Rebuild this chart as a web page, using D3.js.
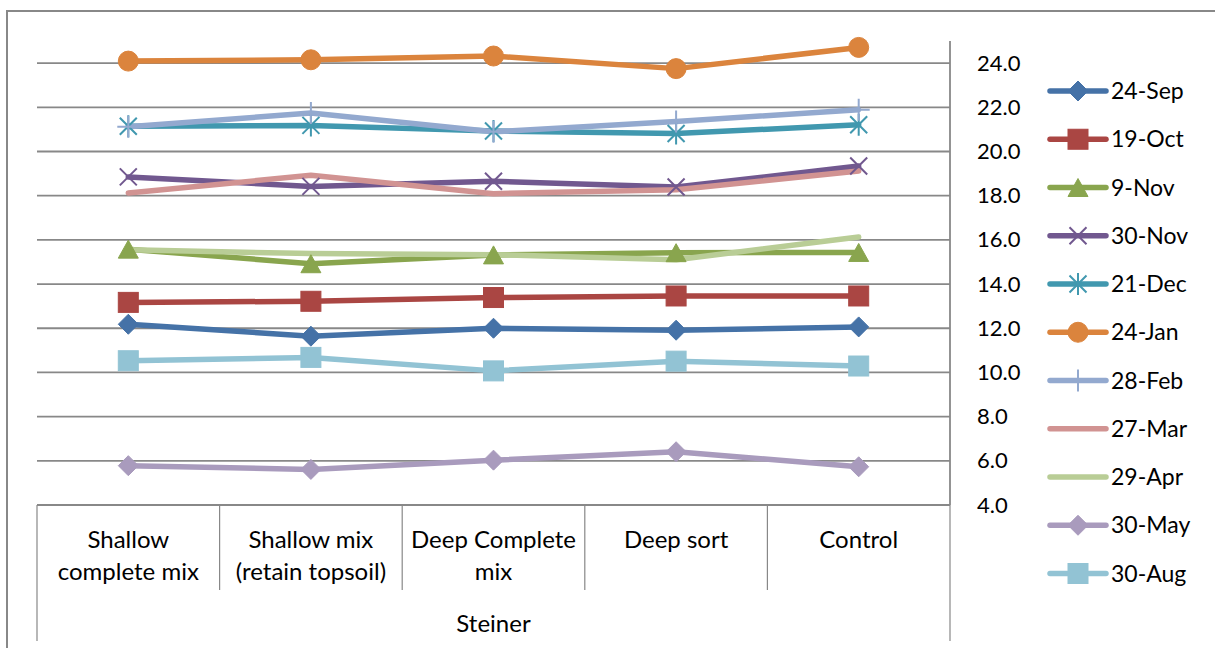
<!DOCTYPE html>
<html>
<head>
<meta charset="utf-8">
<script src="https://cdn.jsdelivr.net/npm/d3@7"></script>
<style>
  html, body { margin: 0; padding: 0; background: #fff; }
  svg { display: block; }
  text { font-family: Lato, "Open Sans", sans-serif; fill: #000; }
</style>
</head>
<body>
<svg id="chart" width="1215" height="648"></svg>
<script>
// ---- data ----
const categories = ["Shallow complete mix", "Shallow mix (retain topsoil)", "Deep Complete mix", "Deep sort", "Control"];
const categoryLines = [["Shallow", "complete mix"], ["Shallow mix", "(retain topsoil)"], ["Deep Complete", "mix"], ["Deep sort"], ["Control"]];
const groupLabel = "Steiner";
const seriesNames = ["24-Sep", "19-Oct", "9-Nov", "30-Nov", "21-Dec", "24-Jan", "28-Feb", "27-Mar", "29-Apr", "30-May", "30-Aug"];
const sep24 = [12.18, 11.64, 12.00, 11.91, 12.06];
const oct19 = [13.17, 13.22, 13.39, 13.46, 13.46];
const nov9  = [15.58, 14.92, 15.32, 15.42, 15.43];
const nov30 = [18.85, 18.42, 18.65, 18.39, 19.34];
const dec21 = [21.14, 21.18, 20.93, 20.81, 21.21];
const jan24 = [24.09, 24.15, 24.32, 23.75, 24.71];
const feb28 = [21.12, 21.74, 20.89, 21.36, 21.89];
const mar27 = [18.12, 18.92, 18.09, 18.27, 19.12];
const apr29 = [15.55, 15.38, 15.33, 15.10, 16.13];
const may30 = [5.78, 5.61, 6.03, 6.41, 5.73];
const aug30 = [10.53, 10.68, 10.07, 10.51, 10.29];
const seriesValues = [sep24, oct19, nov9, nov30, dec21, jan24, feb28, mar27, apr29, may30, aug30];
const seriesColors = ["#4572A7", "#AA4643", "#89A54E", "#71588F", "#4198AF", "#DB843D", "#93A9CF", "#D19392", "#B9CD96", "#A99BBD", "#92C3D4"];
const seriesMarkers = ["diamond", "square", "triangle", "x", "asterisk", "circle", "plus", "none", "none", "diamond", "square"];
const yTicks = [4, 6, 8, 10, 12, 14, 16, 18, 20, 22, 24];
const yDomain = [4, 25];

// ---- layout ----
const svg = d3.select("#chart");
const plot = { left: 37, right: 950, top: 41, bottom: 505 };
const x = d3.scaleBand().domain(categories).range([plot.left, plot.right]).padding(0);
const y = d3.scaleLinear().domain(yDomain).range([plot.bottom, plot.top]);
const cx = c => x(c) + x.bandwidth() / 2;
const gray = "#888888";

svg.append("rect").attr("width", 1215).attr("height", 648).attr("fill", "#fff");
// chart outer border
svg.append("rect").attr("x", 7).attr("y", 11).attr("width", 1230).attr("height", 660)
  .attr("fill", "none").attr("stroke", gray).attr("stroke-width", 2);

// gridlines
svg.append("g").selectAll("line").data(yTicks.filter(t => t > yDomain[0])).join("line")
  .attr("x1", plot.left).attr("x2", plot.right)
  .attr("y1", d => y(d)).attr("y2", d => y(d))
  .attr("stroke", gray).attr("stroke-width", 1.8);

// y axis (right) line
svg.append("line").attr("x1", plot.right).attr("x2", plot.right)
  .attr("y1", plot.top).attr("y2", plot.bottom).attr("stroke", gray).attr("stroke-width", 1.8);

// y tick labels (left aligned, right of axis)
const yAxis = d3.axisRight(y).tickValues(yTicks).tickFormat(d3.format(".1f")).tickSize(0).tickPadding(27);
const gy = svg.append("g").attr("transform", `translate(${plot.right},0)`).call(yAxis);
gy.select(".domain").remove();
gy.selectAll("text").attr("font-size", 22).attr("font-family", "Lato, sans-serif").attr("fill", "#000");

// x axis line
svg.append("line").attr("x1", plot.left).attr("x2", plot.right)
  .attr("y1", plot.bottom).attr("y2", plot.bottom).attr("stroke", gray).attr("stroke-width", 1.8);

// category dividers
const bounds = categories.map(c => x(c)).concat([plot.right]);
svg.append("g").selectAll("line").data(bounds).join("line")
  .attr("x1", d => d).attr("x2", d => d)
  .attr("y1", plot.bottom)
  .attr("y2", (d, i) => (i === 0 || i === bounds.length - 1) ? 641 : 590)
  .attr("stroke", gray).attr("stroke-width", 1.2);

// category labels
const catG = svg.append("g");
categories.forEach((c, i) => {
  const t = catG.append("text").attr("x", cx(c)).attr("y", 548)
    .attr("text-anchor", "middle").attr("font-size", 24);
  categoryLines[i].forEach((ln, j) => {
    t.append("tspan").attr("x", cx(c)).attr("dy", j === 0 ? 0 : 32).text(ln);
  });
});
svg.append("text").attr("x", (plot.left + plot.right) / 2).attr("y", 632)
  .attr("text-anchor", "middle").attr("font-size", 24).text(groupLabel);

// ---- markers ----
function drawMarker(g, type, color, px, py) {
  if (type === "diamond") {
    const s = 10;
    g.append("path").attr("d", `M${px},${py - s}L${px + s},${py}L${px},${py + s}L${px - s},${py}Z`)
      .attr("fill", color).attr("stroke", color).attr("stroke-width", 1);
  } else if (type === "square") {
    const s = 10;
    g.append("rect").attr("x", px - s).attr("y", py - s).attr("width", 2 * s).attr("height", 2 * s)
      .attr("fill", color).attr("stroke", color).attr("stroke-width", 1);
  } else if (type === "triangle") {
    const w = 10, h = 9;
    g.append("path").attr("d", `M${px},${py - h}L${px + w},${py + h}L${px - w},${py + h}Z`)
      .attr("fill", color).attr("stroke", color).attr("stroke-width", 1);
  } else if (type === "circle") {
    g.append("circle").attr("cx", px).attr("cy", py).attr("r", 10)
      .attr("fill", color).attr("stroke", color).attr("stroke-width", 1);
  } else if (type === "x") {
    const s = 8.5;
    g.append("path").attr("d", `M${px - s},${py - s}L${px + s},${py + s}M${px - s},${py + s}L${px + s},${py - s}`)
      .attr("stroke", color).attr("stroke-width", 2).attr("fill", "none");
  } else if (type === "asterisk") {
    const s = 8.5, v = 11;
    g.append("path").attr("d", `M${px - s},${py - s}L${px + s},${py + s}M${px - s},${py + s}L${px + s},${py - s}M${px},${py - v}L${px},${py + v}`)
      .attr("stroke", color).attr("stroke-width", 2).attr("fill", "none");
  } else if (type === "plus") {
    const s = 11;
    g.append("path").attr("d", `M${px - s},${py}L${px + s},${py}M${px},${py - s}L${px},${py + s}`)
      .attr("stroke", color).attr("stroke-width", 2).attr("fill", "none");
  }
}

// ---- lines ----
const line = d3.line().x((d, i) => cx(categories[i])).y(d => y(d));
const linesG = svg.append("g");
seriesValues.forEach((vals, si) => {
  linesG.append("path").attr("d", line(vals)).attr("fill", "none")
    .attr("stroke", seriesColors[si]).attr("stroke-width", 5.5)
    .attr("stroke-linejoin", "round").attr("stroke-linecap", "round");
});
const markG = svg.append("g");
seriesValues.forEach((vals, si) => {
  vals.forEach((v, i) => drawMarker(markG, seriesMarkers[si], seriesColors[si], cx(categories[i]), y(v)));
});

// ---- legend ----
const legG = svg.append("g");
seriesNames.forEach((name, i) => {
  const ly = 91 + i * 48.25;
  legG.append("line").attr("x1", 1050).attr("x2", 1106).attr("y1", ly).attr("y2", ly)
    .attr("stroke", seriesColors[i]).attr("stroke-width", 5.5).attr("stroke-linecap", "round");
  drawMarker(legG, seriesMarkers[i], seriesColors[i], 1078, ly);
  legG.append("text").attr("x", 1111).attr("y", ly).attr("dy", "0.35em")
    .attr("font-size", 23).text(name);
});
</script>
</body>
</html>
